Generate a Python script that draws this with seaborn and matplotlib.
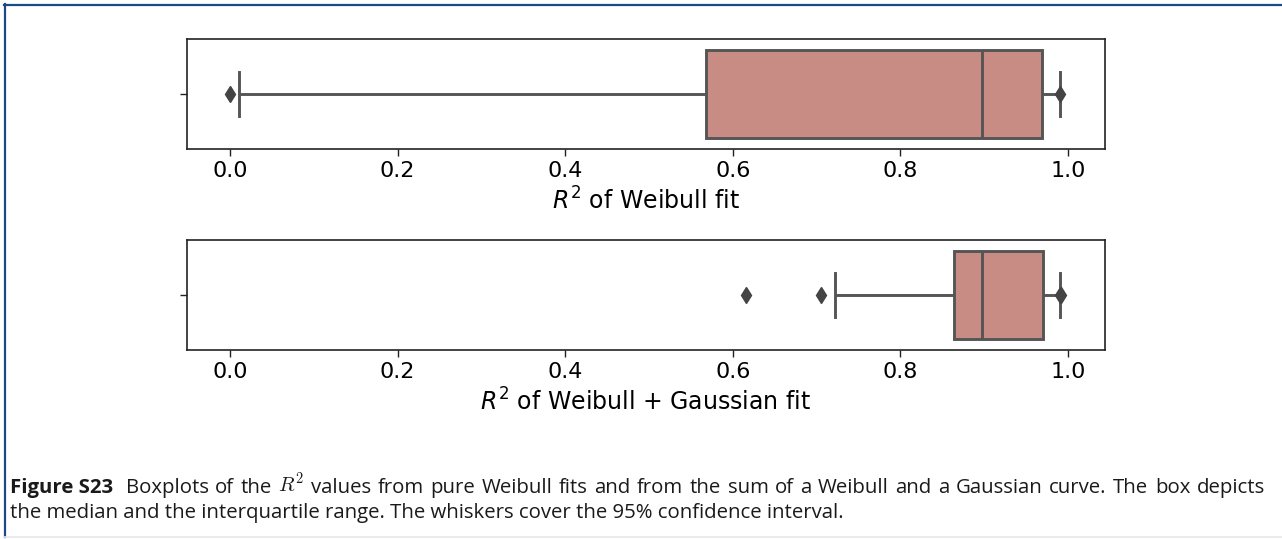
import matplotlib
matplotlib.use("Agg")
import matplotlib.pyplot as plt
from matplotlib.lines import Line2D
import seaborn as sns
import pandas as pd

# R^2 values of the pure Weibull fits (sorted)
r2_weibull = [
    0.000, 0.011, 0.090, 0.210, 0.380, 0.568, 0.630, 0.710, 0.790, 0.850,
    0.897, 0.915, 0.930, 0.945, 0.958, 0.969, 0.975, 0.980, 0.984, 0.990,
    0.991,
]

# R^2 values of the Weibull + Gaussian fits (sorted)
r2_weibull_gauss = [
    0.616, 0.705, 0.722, 0.740, 0.770, 0.790, 0.810, 0.825, 0.838, 0.848,
    0.857, 0.864, 0.867, 0.870, 0.873, 0.876, 0.879, 0.882, 0.885, 0.888,
    0.891, 0.894, 0.897, 0.905, 0.913, 0.921, 0.929, 0.936, 0.943, 0.950,
    0.956, 0.961, 0.966, 0.970, 0.973, 0.975, 0.977, 0.979, 0.981, 0.983,
    0.985, 0.987, 0.990, 0.991, 0.992,
]

panel_labels = [r"$R^2$ of Weibull fit", r"$R^2$ of Weibull + Gaussian fit"]
tick_values = [0.0, 0.2, 0.4, 0.6, 0.8, 1.0]

caption_bold = "Figure S23"
caption_line1 = ("Boxplots of the $R^2$ values from pure Weibull fits and from the sum "
                 "of a Weibull and a Gaussian curve. The box depicts")
caption_line2 = ("the median and the interquartile range. The whiskers cover the "
                 "95% confidence interval.")

box_color = "#c98c85"
line_color = "#555555"

W, H = 1282, 539
fig = plt.figure(figsize=(W / 100, H / 100), dpi=100)
fig.patch.set_facecolor("white")

# axes rectangles in pixels: (left, top, right, bottom)
rects = [(187, 39, 1105, 149), (187, 240, 1105, 350)]
datasets = [r2_weibull, r2_weibull_gauss]

for (l, t, r, b), vals, lab in zip(rects, datasets, panel_labels):
    ax = fig.add_axes([l / W, 1 - b / H, (r - l) / W, (b - t) / H])
    df = pd.DataFrame({"r2": vals})
    sns.boxplot(
        data=df, x="r2", ax=ax, color=box_color, saturation=1,
        linecolor=line_color, linewidth=2.1, width=0.8, whis=(2.5, 97.5),
        flierprops=dict(marker="d", markerfacecolor="#444444",
                        markeredgecolor="#444444", markersize=8),
    )
    ax.set_xlim(-0.0513, 1.0442)
    ax.set_ylim(0.5, -0.5)
    ax.set_xticks(tick_values)
    ax.set_xticklabels([f"{v:.1f}" for v in tick_values], fontsize=16)
    ax.set_yticks([0])
    ax.set_yticklabels([""])
    ax.tick_params(axis="both", length=5, width=1, color="#222222")
    ax.set_xlabel(lab, fontsize=17, labelpad=5)
    ax.set_ylabel("")
    for s in ax.spines.values():
        s.set_color("#222222")
        s.set_linewidth(1.2)

# page frame lines
fig.add_artist(Line2D([4 / W, 1], [1 - 4.5 / H, 1 - 4.5 / H], color="#1c4a84", lw=1.6))
fig.add_artist(Line2D([4.5 / W, 4.5 / W], [1 - 4 / H, 1 - 537 / H], color="#1c4a84", lw=1.6))
fig.add_artist(Line2D([4 / W, 1], [1 - 537 / H, 1 - 537 / H], color="#e8e8e8", lw=1.2))

# caption: second line set at natural width, first line justified to the margins
cap_font = "Open Sans"
cap_color = "#1a1a1a"
x_left, x_right, x_line2_end = 10, 1265, 842
bold_extra = 6  # wider space after the bold caption label
y1 = 1 - 493 / H
y2 = 1 - 518 / H
renderer = fig.canvas.get_renderer()


def text_width(s, fs, **kw):
    t = fig.text(0, 0, s, fontsize=fs, family=cap_font, **kw)
    w = t.get_window_extent(renderer=renderer).width
    t.remove()
    return w


fs0 = 12.0
fs = fs0 * (x_line2_end - x_left) / text_width(caption_line2, fs0)

words = [(caption_bold, dict(fontweight="bold"))]
words += [(w, dict(math_fontfamily="cm")) for w in caption_line1.split(" ")]
widths = [text_width(w, fs, **kw) for w, kw in words]
gap = (x_right - x_left - bold_extra - sum(widths)) / (len(words) - 1)
x = x_left
for i, ((w, kw), wd) in enumerate(zip(words, widths)):
    fig.text(x / W, y1, w, fontsize=fs, family=cap_font, va="baseline",
             ha="left", color=cap_color, **kw)
    x += wd + gap + (bold_extra if i == 0 else 0)

fig.text(x_left / W, y2, caption_line2, fontsize=fs, family=cap_font,
         va="baseline", ha="left", color=cap_color)

fig.savefig("out.png", dpi=100)
